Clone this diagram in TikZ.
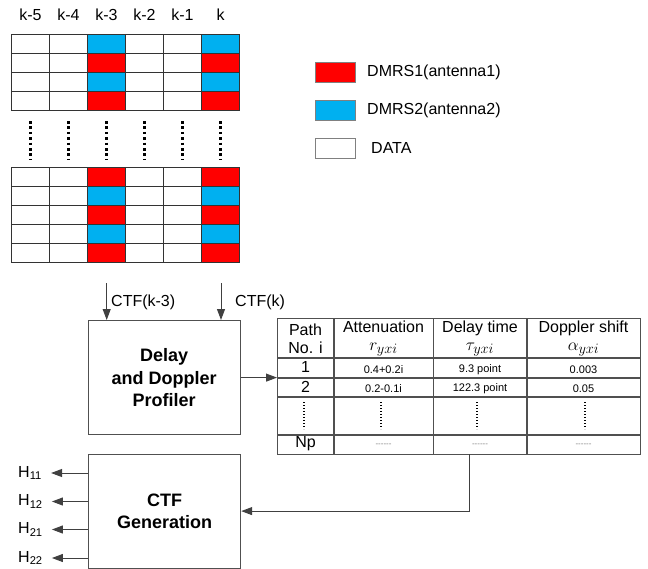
\documentclass[tikz,border=0pt]{standalone}
\usepackage{fontspec}
\setmainfont{Liberation Sans}
\usetikzlibrary{arrows.meta, positioning}
\definecolor{dmrsred}{HTML}{FF0000}
\definecolor{dmrsblue}{HTML}{00B0F0}
\definecolor{edge}{HTML}{505050}
\newcommand{\hmath}[1]{{\fontsize{19}{18}\selectfont$#1$}}

\begin{document}
\begin{tikzpicture}[x=1pt, y=-1pt,
  lbl/.style={font=\fontsize{16}{18}\selectfont, inner sep=0pt, align=center},
  small/.style={font=\fontsize{11}{13}\selectfont, inner sep=0pt},
  blk/.style={draw=edge, line width=1.2pt, align=center,
              font=\fontsize{18}{22.5}\selectfont\bfseries,
              minimum width=152pt, minimum height=114pt, anchor=north west},
  cell/.style={draw=black!80, line width=1pt},
  key/.style={draw=gray, line width=1pt, minimum width=40pt,
              minimum height=20pt, inner sep=0pt},
  tline/.style={draw=edge, line width=1.2pt},
  vdots/.style={line width=2.6pt, dash pattern=on 2.6pt off 2.8pt},
  tdots/.style={line width=1.4pt, dash pattern=on 1.4pt off 1.6pt},
  arr/.style={-{Triangle[length=11pt, width=8pt]}, line width=1pt, black!75}]
\useasboundingbox (0,0) rectangle (648,568);

% resource grid
\foreach \c/\k in {0/k-5, 1/k-4, 2/k-3, 3/k-2, 4/k-1, 5/k}
  \node[lbl] (col\c) at (30.5+38*\c,15) {\k};
\foreach \c in {0,...,5} {
  \foreach \r in {0,...,3}
    \draw[cell, fill=white] (11+38*\c,34+19*\r) rectangle ++(38,19);
  \foreach \r in {0,...,4}
    \draw[cell, fill=white] (11+38*\c,167+19.1*\r) rectangle ++(38,19.1);
  \draw[vdots] (30.5+38*\c,121) -- (30.5+38*\c,159);
}
\foreach \c in {2,5} {
  \foreach \r/\f in {0/dmrsblue, 1/dmrsred, 2/dmrsblue, 3/dmrsred}
    \draw[cell, fill=\f] (11+38*\c,34+19*\r) rectangle ++(38,19);
  \foreach \r/\f in {0/dmrsred, 1/dmrsblue, 2/dmrsred, 3/dmrsblue, 4/dmrsred}
    \draw[cell, fill=\f] (11+38*\c,167+19.1*\r) rectangle ++(38,19.1);
}

% legend
\node[key, fill=dmrsred] (key1) at (335,72.5) {};
\node[key, fill=dmrsblue] (key2) at (335,110.5) {};
\node[key, fill=white] (key3) at (335,148) {};
\node[lbl, anchor=west] (txt1) at (367,72) {DMRS1(antenna1)};
\node[lbl, anchor=west] (txt2) at (367,110) {DMRS2(antenna2)};
\node[lbl, anchor=west] (txt3) at (371,148) {DATA};

% blocks
\node[blk] (prof) at (87.5,320) {Delay\\and Doppler\\Profiler};
\node[blk] (gen) at (88,453.5) {CTF\\Generation};

\coordinate (ina) at (106.7,283);
\coordinate (inb) at (221,283);
\draw[arr] (ina) -- (ina |- prof.north);
\draw[arr] (inb) -- (inb |- prof.north);
\node[lbl, anchor=west] (ctfa) at (111,302) {CTF(k-3)};
\node[lbl, anchor=west] (ctfb) at (235,302) {CTF(k)};

% path table
\node[tline, anchor=north west, minimum width=363pt, minimum height=136pt,
      inner sep=0pt] (tbl) at (277,318) {};
\foreach \y in {358,378,397,435}
  \draw[tline] (277,\y) -- (640,\y);
\foreach \x in {334,433.5,527}
  \draw[tline] (\x,318) -- (\x,454);
\node[lbl] (hpath) at (305.5,338.5) {Path\\No. i};
\node[lbl] (hatt) at (383.5,338.5) {Attenuation\\\hmath{r_{yxi}}};
\node[lbl] (hdel) at (480,338.5) {Delay time\\\hmath{\tau_{yxi}}};
\node[lbl] (hdop) at (583.5,338.5) {Doppler shift\\\hmath{\alpha_{yxi}}};
\node[lbl] (n1) at (305.5,367) {1};
\node[small] (a1) at (383.5,369.5) {0.4+0.2i};
\node[small] (d1) at (480,369.5) {9.3 point};
\node[small] (f1) at (583.5,369.5) {0.003};
\node[lbl] (n2) at (305.5,386.5) {2};
\node[small] (a2) at (383.5,389) {0.2-0.1i};
\node[small] (d2) at (480,389) {122.3 point};
\node[small] (f2) at (583.5,389) {0.05};
\foreach \x in {304,381,477,585}
  \draw[tdots] (\x,402) -- (\x,429);
\node[lbl] (np) at (305.5,444) {Np};
\foreach \x/\n in {383.5/a, 480/d, 583.5/f}
  \node[font=\fontsize{8}{9}\selectfont, text=gray, inner sep=0pt] (np\n)
    at (\x,445.5) {-{}-{}-{}-{}-{}-};
\coordinate (tout) at (469,454);

% connectors
\draw[arr] (prof) -- (prof -| tbl.west);
\draw[arr] (tout) |- (gen);
\foreach \n/\y in {11/473, 12/501.5, 21/529.5, 22/558} {
  \node[lbl, anchor=west] (h\n) at (18,\y) {H\textsubscript{\n}};
  \draw[arr] (gen.west |- h\n) -- ([xshift=9pt]h\n.east);
}
\end{tikzpicture}
\end{document}
